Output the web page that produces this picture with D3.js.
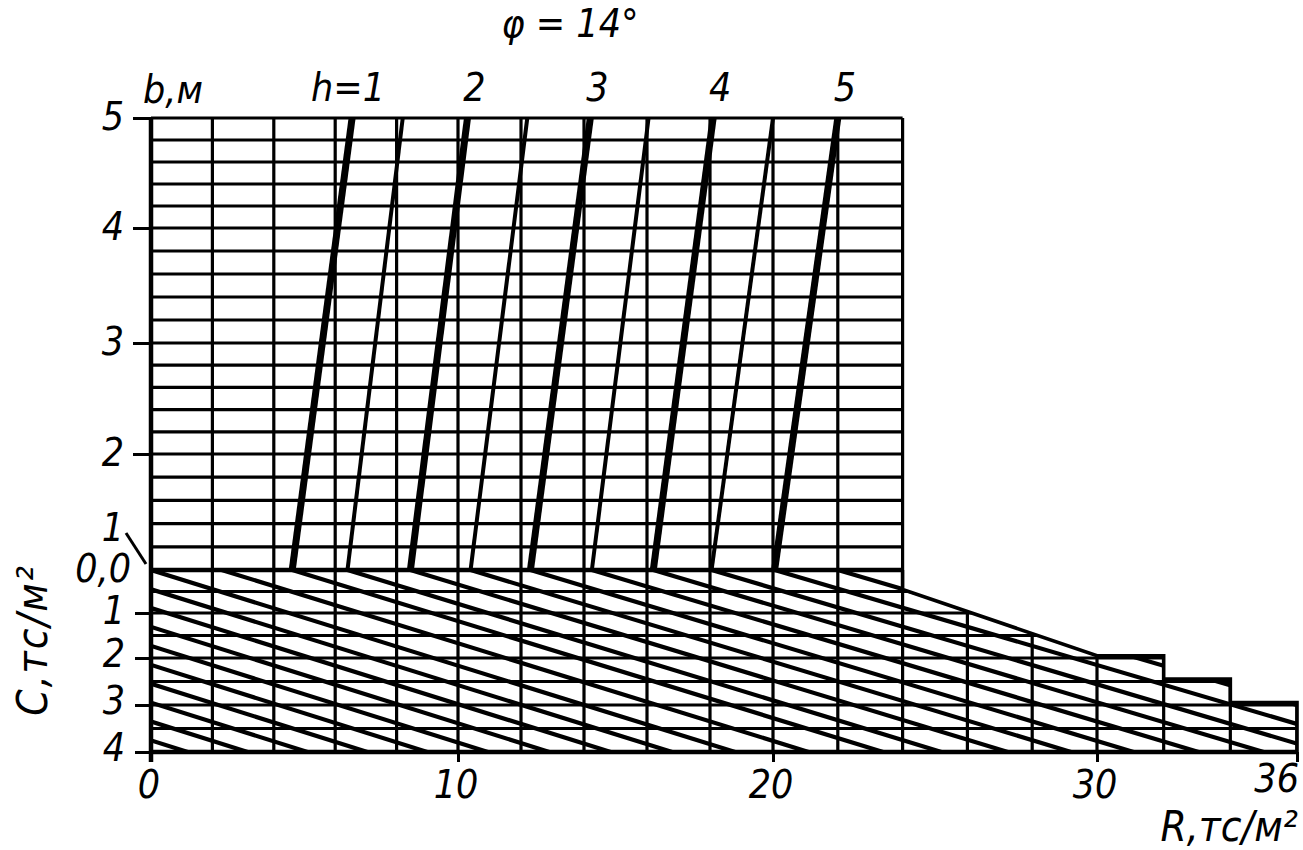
<!DOCTYPE html>
<html>
<head>
<meta charset="utf-8">
<script src="https://cdn.jsdelivr.net/npm/d3@7"></script>
<style>
  body { margin: 0; background: #fff; }
  text { font-family: "DejaVu Sans Condensed", "Liberation Sans Narrow", sans-serif; font-stretch: condensed; font-style: italic; fill: #000; }
</style>
</head>
<body>
<svg id="chart" width="1303" height="850"></svg>
<script>
// values (phi = 14 deg)
var rTicks = [0, 10, 20, 30, 36];
var bTicks = [1, 2, 3, 4, 5];
var cTicks = [0, 1, 2, 3, 4];
var hLabels = ["h=1", "2", "3", "4", "5"];
// R at b=1 and at b=5 for h = 1..5 (thick) and h = 1.5..4.5 (thin)
var hThickB1 = [4.6, 8.45, 12.3, 16.2, 20.05];
var hThickB5 = [6.55, 10.3, 14.2, 18.1, 22.0];
var hThinB1 = [6.4, 10.4, 14.25, 18.05];
var hThinB5 = [8.2, 12.2, 16.05, 20.0];
// hatch lines of the lower field: R at C=0 and R at C=4
var hatchC0 = [-17.6, -15.65, -13.7, -11.75, -9.8, -7.85, -5.9, -3.95, -2.0, 0, 2.3, 4.6, 6.4, 8.45, 10.4, 12.3, 14.25, 16.2, 18.05, 20.05, 22.0];
var hatchC4 = [1.2, 3.15, 5.1, 7.05, 9.0, 10.95, 12.9, 14.85, 16.8, 18.8, 21.1, 23.4, 25.2, 27.25, 29.2, 31.1, 33.05, 35.0, 36.85, 38.85, 40.8];
// stepped outline of the lower field
var edgeR = [0, 24, 24, 30, 32, 32, 34, 34, 36, 36, 0];
var edgeC = [0, 0, 0.45, 1.95, 1.95, 2.45, 2.45, 2.95, 2.95, 4, 4];

var svg = d3.select("#chart");

// scan is slightly stretched, so piecewise scales
var x = d3.scaleLinear().domain(rTicks).range([151, 458, 773, 1097, 1297]);
var yB = d3.scaleLinear().domain(bTicks).range([570, 454, 343, 228, 118]);
var yC = d3.scaleLinear().domain(cTicks).range([570, 613, 658, 705, 752]);

var gridW = 3.2;

// ---- lower field (C) ----
var outline = edgeR.map(function(r, i) { return [x(r), yC(edgeC[i])]; });
svg.append("clipPath").attr("id", "low")
  .append("polygon").attr("points", outline.map(function(p) { return p.join(","); }).join(" "));

var low = svg.append("g").attr("clip-path", "url(#low)");

low.selectAll(".ch").data(d3.range(0, 4.01, 0.5)).enter().append("line")
  .attr("x1", x(0)).attr("x2", x(36))
  .attr("y1", function(d) { return yC(d); }).attr("y2", function(d) { return yC(d); })
  .attr("stroke", "#000").attr("stroke-width", gridW);

low.selectAll(".cv").data(d3.range(0, 36.01, 2)).enter().append("line")
  .attr("x1", function(d) { return x(d); }).attr("x2", function(d) { return x(d); })
  .attr("y1", yC(0)).attr("y2", yC(4))
  .attr("stroke", "#000").attr("stroke-width", gridW);

low.selectAll(".hatch").data(hatchC0).enter().append("line")
  .attr("x1", function(d) { return x(d); })
  .attr("y1", yC(0))
  .attr("x2", function(d, i) { return x(hatchC4[i]); })
  .attr("y2", yC(4))
  .attr("stroke", "#000").attr("stroke-width", 4.2);

svg.append("path")
  .attr("d", d3.line()(outline.slice(1, 10)))
  .attr("fill", "none").attr("stroke", "#000").attr("stroke-width", 3.6);

// ---- upper field (b) ----
var up = svg.append("g");
up.selectAll(".bh").data(d3.range(1, 5.01, 0.2)).enter().append("line")
  .attr("x1", x(0)).attr("x2", x(24))
  .attr("y1", function(d) { return yB(d); }).attr("y2", function(d) { return yB(d); })
  .attr("stroke", "#000").attr("stroke-width", gridW);

up.selectAll(".bv").data(d3.range(0, 24.01, 2)).enter().append("line")
  .attr("x1", function(d) { return x(d); }).attr("x2", function(d) { return x(d); })
  .attr("y1", yB(1)).attr("y2", yB(5))
  .attr("stroke", "#000").attr("stroke-width", gridW);

up.selectAll(".thin").data(hThinB1).enter().append("line")
  .attr("x1", function(d) { return x(d); }).attr("y1", yB(1))
  .attr("x2", function(d, i) { return x(hThinB5[i]); }).attr("y2", yB(5))
  .attr("stroke", "#000").attr("stroke-width", 4);

up.selectAll(".thick").data(hThickB1).enter().append("line")
  .attr("x1", function(d) { return x(d); }).attr("y1", yB(1))
  .attr("x2", function(d, i) { return x(hThickB5[i]); }).attr("y2", yB(5))
  .attr("stroke", "#000").attr("stroke-width", 7);

// axis frame lines
svg.append("line").attr("x1", x(0)).attr("x2", x(0)).attr("y1", yB(5)).attr("y2", yC(4) + 10)
  .attr("stroke", "#000").attr("stroke-width", 4.5);
svg.append("line").attr("x1", x(0)).attr("x2", x(36)).attr("y1", yC(4)).attr("y2", yC(4))
  .attr("stroke", "#000").attr("stroke-width", 4.5);
svg.append("line").attr("x1", x(0)).attr("x2", x(24)).attr("y1", yC(0)).attr("y2", yC(0))
  .attr("stroke", "#000").attr("stroke-width", 4.5);

// ticks
var bAxis = svg.append("g").attr("transform", "translate(" + x(0) + ",0)")
  .call(d3.axisLeft(yB).tickValues([2, 3, 4, 5]).tickSize(18).tickSizeOuter(0).tickFormat(""));
var cAxis = svg.append("g").attr("transform", "translate(" + x(0) + ",0)")
  .call(d3.axisLeft(yC).tickValues([1, 2, 3, 4]).tickSize(16).tickSizeOuter(0).tickFormat(""));
var rAxis = svg.append("g").attr("transform", "translate(0," + yC(4) + ")")
  .call(d3.axisBottom(x).tickValues(rTicks).tickSize(10).tickSizeOuter(0).tickFormat(""));
[bAxis, cAxis, rAxis].forEach(function(a) {
  a.select(".domain").remove();
  a.selectAll(".tick line").attr("stroke", "#000").attr("stroke-width", 3);
});

// ---- labels ----
var fs = 39;
svg.selectAll(".bl").data(bTicks).enter().append("text")
  .attr("x", 113).attr("y", function(d) { return d === 1 ? yB(d) - 29 : yB(d) + 12; })
  .attr("text-anchor", "middle").attr("font-size", fs)
  .text(function(d) { return d; });
svg.append("line").attr("x1", 126).attr("y1", 533).attr("x2", 146).attr("y2", 564)
  .attr("stroke", "#000").attr("stroke-width", 3);
svg.append("text").attr("x", 131).attr("y", yC(0) + 12).attr("text-anchor", "end")
  .attr("font-size", fs).text("0,0");

svg.selectAll(".cl").data([1, 2, 3, 4]).enter().append("text")
  .attr("x", 114).attr("y", function(d) { return yC(d) + (d === 1 ? 11 : 9); })
  .attr("text-anchor", "middle").attr("font-size", fs)
  .text(function(d) { return d; });

svg.selectAll(".rl").data(rTicks).enter().append("text")
  .attr("x", function(d) { return d === 36 ? x(d) + 2 : x(d) - 2; })
  .attr("y", function(d) { return d === 36 ? 792 : 798; })
  .attr("text-anchor", function(d) { return d === 36 ? "end" : "middle"; })
  .attr("font-size", fs)
  .text(function(d) { return d; });

svg.selectAll(".hl").data(hLabels).enter().append("text")
  .attr("x", function(d, i) { return i === 0 ? x(hThickB5[i]) + 33 : x(hThickB5[i]) + 7; })
  .attr("y", 101)
  .attr("text-anchor", function(d, i) { return i === 0 ? "end" : "middle"; })
  .attr("font-size", fs)
  .text(function(d) { return d; });

svg.append("text").attr("x", 143).attr("y", 103).attr("font-size", fs).text("b,м");
svg.append("text").attr("x", 570).attr("y", 37).attr("text-anchor", "middle")
  .attr("font-size", fs).text("φ = 14°");
svg.append("text").attr("x", 1298).attr("y", 841).attr("text-anchor", "end")
  .attr("font-size", 42).text("R,тс/м²");
svg.append("text").attr("transform", "translate(47,640) rotate(-90)")
  .attr("text-anchor", "middle").attr("font-size", 42).attr("letter-spacing", 2)
  .text("C,тс/м²");
</script>
</body>
</html>
